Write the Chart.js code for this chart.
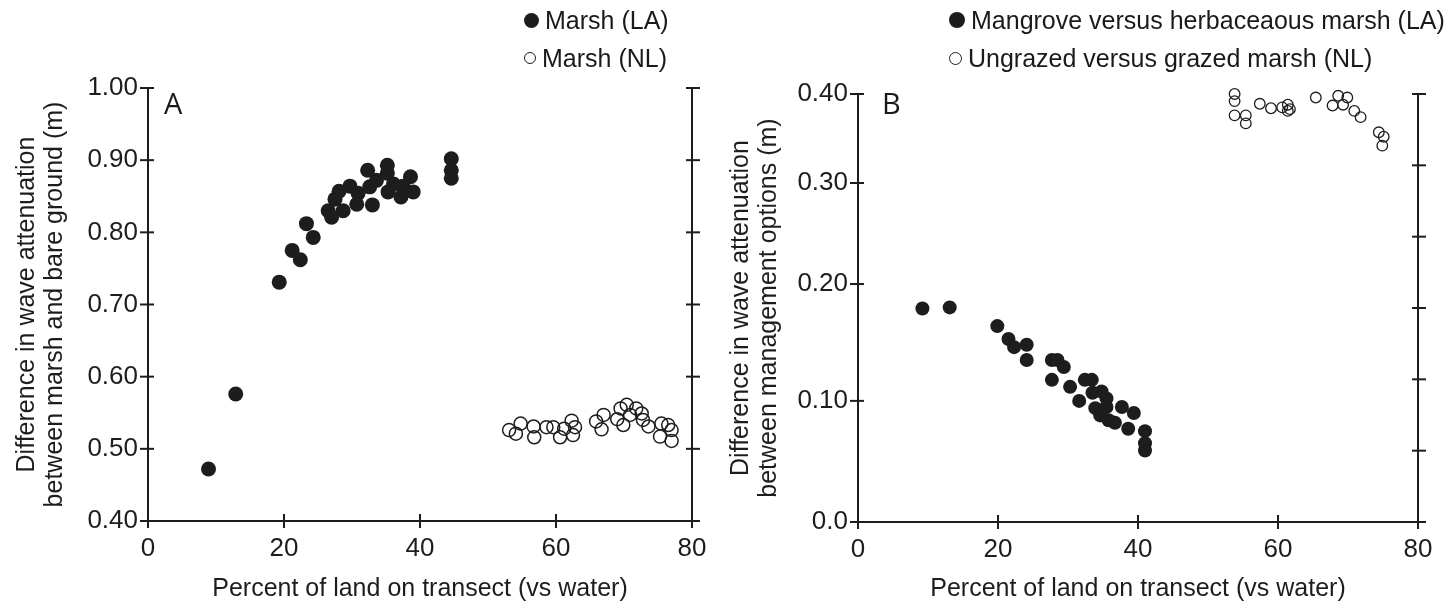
<!DOCTYPE html>
<html>
<head>
<meta charset="utf-8">
<script src="https://cdn.jsdelivr.net/npm/chart.js@4.4.1/dist/chart.umd.min.js"></script>
<style>
  body { margin: 0; width: 1450px; height: 607px; position: relative; background: #fff; overflow: hidden;
         font-family: "Liberation Sans", Arial, sans-serif; color: #1a1a1a; }
  .panel { position: absolute; top: 0; width: 725px; height: 607px; }
  .legend { position: absolute; font-size: 25px; line-height: 30px; }
  .legend div { position: relative; height: 38px; white-space: nowrap; }
  .dot { display: inline-block; border-radius: 50%; box-sizing: border-box; vertical-align: middle;
         margin-right: 6px; position: relative; top: -2px; }
  .tag { position: absolute; font-family: "Open Sans", sans-serif; font-size: 29px; }
</style>
</head>
<body>
<div class="panel" style="left:0"><canvas id="chartA" width="725" height="607"></canvas></div>
<div class="panel" style="left:725px"><canvas id="chartB" width="725" height="607"></canvas></div>
<div class="legend" id="legendA" style="left:524px; top:5px"></div>
<div class="legend" id="legendB" style="left:949px; top:5px"></div>
<div class="tag" style="left:164px; top:83px">A</div>
<div class="tag" style="left:882px; top:83px">B</div>

<script>
// ---------- DATA ----------
const xTicks = [0, 20, 40, 60, 80];
const aYTicks = [0.4, 0.5, 0.6, 0.7, 0.8, 0.9, 1.0];
const bYTicks = [0, 0.1, 0.2, 0.3, 0.4];
const bYTickLabels = ["0.0", "0.10", "0.20", "0.30", "0.40"];
const bRightTicks = [0, 1, 2, 3, 4, 5, 6];

const aLabels = ["Marsh (LA)", "Marsh (NL)"];
const bLabels = ["Mangrove versus herbaceaous marsh (LA)", "Ungrazed versus grazed marsh (NL)"];

// panel A, marsh vs bare ground
const aLaX = [8.9, 12.9, 19.3, 21.2, 22.4, 23.3, 24.3, 26.5, 27.0, 27.5, 28.1, 28.7, 29.7, 30.7, 30.9,
  32.3, 32.6, 33.0, 33.6, 35.2, 35.2, 35.3, 36.1, 37.2, 37.5, 38.6, 39.0, 44.6, 44.6, 44.6];
const aLaY = [0.472, 0.576, 0.731, 0.775, 0.762, 0.812, 0.793, 0.830, 0.821, 0.846, 0.857, 0.830, 0.864, 0.839, 0.854,
  0.886, 0.863, 0.838, 0.872, 0.893, 0.882, 0.856, 0.867, 0.849, 0.864, 0.877, 0.856, 0.902, 0.886, 0.875];
const aNlX = [53.1, 54.1, 54.8, 56.7, 56.8, 58.6, 59.6, 60.6, 61.2, 62.3, 62.8, 62.5, 65.9, 66.7, 67.0,
  69.0, 69.5, 70.4, 69.9, 70.9, 71.8, 72.6, 72.8, 73.6, 75.5, 75.3, 76.5, 77.0, 77.0];
const aNlY = [0.526, 0.521, 0.535, 0.531, 0.516, 0.530, 0.530, 0.516, 0.528, 0.539, 0.530, 0.519, 0.538, 0.527, 0.547,
  0.541, 0.556, 0.561, 0.533, 0.547, 0.556, 0.549, 0.540, 0.531, 0.535, 0.517, 0.533, 0.526, 0.511];

// panel B, between management options
const bLaX = [9.2, 13.1, 19.9, 21.5, 22.3, 24.1, 24.1, 27.7, 28.5, 29.4, 27.7, 30.3, 31.6, 32.4, 33.4,
  33.5, 34.8, 35.5, 33.9, 34.6, 35.5, 35.8, 36.7, 37.7, 38.6, 39.4, 41.0, 41.0, 41.0];
const bLaY = [0.179, 0.180, 0.164, 0.153, 0.146, 0.148, 0.135, 0.135, 0.135, 0.129, 0.118, 0.112, 0.100, 0.118, 0.118,
  0.107, 0.108, 0.102, 0.094, 0.088, 0.095, 0.084, 0.082, 0.095, 0.077, 0.090, 0.075, 0.065, 0.059];
const bNlX = [53.8, 53.8, 53.8, 55.4, 55.4, 57.4, 59.0, 60.6, 61.4, 61.4, 61.7, 65.4, 67.8, 68.6, 69.3,
  69.9, 70.9, 71.8, 74.4, 75.1, 74.9];
const bNlY = [0.400, 0.392, 0.376, 0.376, 0.367, 0.389, 0.384, 0.385, 0.388, 0.381, 0.383, 0.396, 0.387, 0.398, 0.388,
  0.396, 0.381, 0.374, 0.357, 0.352, 0.342];

const INK = "#1f1c1d";
const toPts = (xs, ys) => xs.map((x, i) => ({ x, y: ys[i] }));

// ---------- B axis is not evenly spaced in the original ----------
const bBreakFrac = [0, 0.283, 0.556, 0.792, 1];
const LinearScale = Chart.LinearScale || Chart.registry.getScale("linear");
class PiecewiseScale extends LinearScale {
  getPixelForValue(value) {
    if (value === null || value === undefined) return NaN;
    const v = bYTicks;
    let i = 0;
    while (i < v.length - 2 && value > v[i + 1]) i++;
    const f = bBreakFrac[i] + (value - v[i]) / (v[i + 1] - v[i]) * (bBreakFrac[i + 1] - bBreakFrac[i]);
    return this.getPixelForDecimal(f);
  }
  getValueForPixel(pixel) {
    const f = this.getDecimalForPixel(pixel);
    let i = 0;
    while (i < bBreakFrac.length - 2 && f > bBreakFrac[i + 1]) i++;
    return bYTicks[i] + (f - bBreakFrac[i]) / (bBreakFrac[i + 1] - bBreakFrac[i]) * (bYTicks[i + 1] - bYTicks[i]);
  }
}
PiecewiseScale.id = "piecewise";
PiecewiseScale.defaults = { ...LinearScale.defaults };
Chart.register(PiecewiseScale);

Chart.defaults.font.family = "'Liberation Sans', Arial, sans-serif";
Chart.defaults.color = INK;

// tick marks that cross the axis line
const crossTicks = {
  id: "crossTicks",
  afterDraw(chart) {
    const ctx = chart.ctx;
    ctx.save();
    ctx.strokeStyle = INK;
    ctx.lineWidth = 2;
    Object.values(chart.scales).forEach((s) => {
      s.ticks.forEach((t, i) => {
        const p = s.getPixelForTick(i);
        ctx.beginPath();
        if (s.isHorizontal()) {
          ctx.moveTo(p, s.top - 7); ctx.lineTo(p, s.top + 7);
        } else if (s.position === "left") {
          ctx.moveTo(s.right - 8, p); ctx.lineTo(s.right + 6, p);
        } else {
          ctx.moveTo(s.left - 6, p); ctx.lineTo(s.left + 8, p);
        }
        ctx.stroke();
      });
    });
    ctx.restore();
  }
};

const fixTicks = (arr) => (scale) => { scale.ticks = arr.map((v) => ({ value: v })); };
const axisLine = { display: true, color: INK, width: 2 };
const noGrid = { display: true, drawOnChartArea: false, drawTicks: false };
const tickFont = { size: 26 };
const titleFont = { size: 25, lineHeight: 1.12 };

function xAxis(height) {
  return {
    type: "linear", min: 0, max: 80,
    afterBuildTicks: fixTicks(xTicks),
    afterFit: (s) => { s.height = height; },
    border: axisLine, grid: noGrid,
    ticks: { font: tickFont, padding: 12, maxRotation: 0 },
    title: { display: true, text: "Percent of land on transect (vs water)", font: titleFont,
             padding: { top: 0, bottom: 4 } }
  };
}

function makeChart(id, cfg) {
  return new Chart(document.getElementById(id), {
    type: "scatter",
    data: { datasets: cfg.datasets },
    options: {
      responsive: false,
      animation: false,
      layout: { padding: { top: cfg.top, left: 0, right: 0, bottom: 0 } },
      plugins: { legend: { display: false }, tooltip: { enabled: false } },
      scales: cfg.scales
    },
    plugins: [crossTicks]
  });
}

// ---------- PANEL A ----------
makeChart("chartA", {
  top: 88,
  datasets: [
    { label: aLabels[0], data: toPts(aLaX, aLaY), pointRadius: 7.5, pointBorderWidth: 0,
      pointBackgroundColor: INK, clip: false },
    { label: aLabels[1], data: toPts(aNlX, aNlY), pointRadius: 6.5, pointBorderWidth: 1.5,
      pointBorderColor: INK, pointBackgroundColor: "rgba(0,0,0,0)", clip: false }
  ],
  scales: {
    x: xAxis(86),
    y: {
      type: "linear", position: "left", min: 0.4, max: 1.0,
      afterBuildTicks: fixTicks(aYTicks),
      afterFit: (s) => { s.width = 148; },
      border: axisLine, grid: noGrid,
      ticks: { font: tickFont, padding: 10, callback: (v) => Number(v).toFixed(2) },
      title: { display: true, text: ["Difference in wave attenuation", "between marsh and bare ground (m)"],
               font: titleFont, padding: { top: 13, bottom: 0 } }
    },
    y2: {
      type: "linear", position: "right", min: 0.4, max: 1.0,
      afterBuildTicks: fixTicks(aYTicks),
      afterFit: (s) => { s.width = 33; },
      border: axisLine, grid: noGrid, ticks: { display: false }
    }
  }
});

// ---------- PANEL B ----------
makeChart("chartB", {
  top: 94,
  datasets: [
    { label: bLabels[0], data: toPts(bLaX, bLaY), pointRadius: 7, pointBorderWidth: 0,
      pointBackgroundColor: INK, clip: false },
    { label: bLabels[1], data: toPts(bNlX, bNlY), pointRadius: 5.3, pointBorderWidth: 1.3,
      pointBorderColor: INK, pointBackgroundColor: "rgba(0,0,0,0)", clip: false }
  ],
  scales: {
    x: xAxis(85),
    y: {
      type: "piecewise", position: "left", min: 0, max: 0.4,
      afterBuildTicks: fixTicks(bYTicks),
      afterFit: (s) => { s.width = 133; },
      border: axisLine, grid: noGrid,
      ticks: { font: tickFont, padding: 10, callback: (v, i) => bYTickLabels[i] },
      title: { display: true, text: ["Difference in wave attenuation", "between management options (m)"],
               font: titleFont, padding: { top: 2, bottom: 0 } }
    },
    y2: {
      type: "linear", position: "right", min: 0, max: 6,
      afterBuildTicks: fixTicks(bRightTicks),
      afterFit: (s) => { s.width = 32; },
      border: axisLine, grid: noGrid, ticks: { display: false }
    }
  }
});

// ---------- LEGENDS ----------
function buildLegend(elId, labels, sizes) {
  const box = document.getElementById(elId);
  labels.forEach((text, i) => {
    const row = document.createElement("div");
    const dot = document.createElement("span");
    dot.className = "dot";
    dot.style.width = dot.style.height = sizes[i] + "px";
    if (i === 0) dot.style.background = INK;
    else dot.style.border = "1.6px solid " + INK;
    row.appendChild(dot);
    row.appendChild(document.createTextNode(text));
    box.appendChild(row);
  });
}
buildLegend("legendA", aLabels, [15, 12]);
buildLegend("legendB", bLabels, [16, 13]);
</script>
</body>
</html>
